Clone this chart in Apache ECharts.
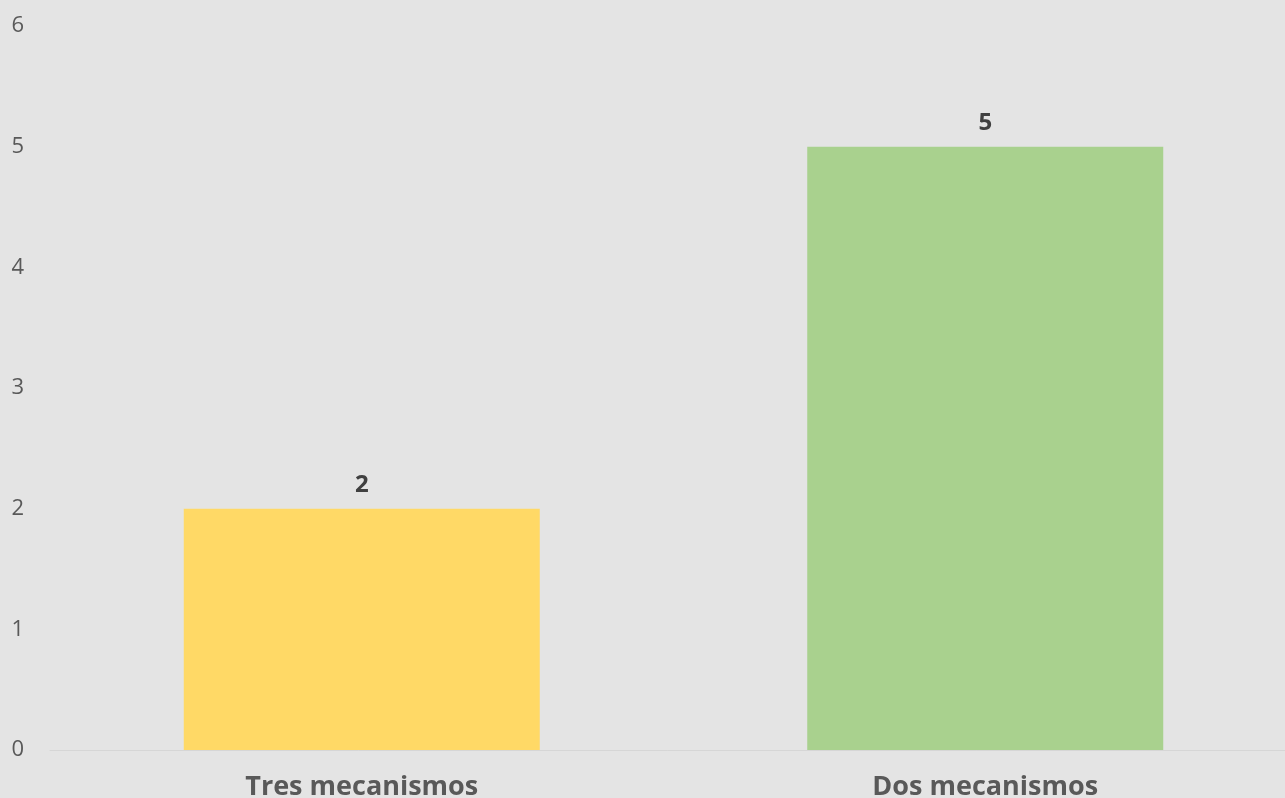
<!DOCTYPE html>
<html>
<head>
<meta charset="utf-8">
<script src="https://cdn.jsdelivr.net/npm/echarts@6/dist/echarts.min.js"></script>
<style>
  html, body { margin: 0; padding: 0; background: #E4E4E4; }
  #chart { width: 1285px; height: 798px; }
</style>
</head>
<body>
<div id="chart"></div>
<script>
const categories = ['Tres mecanismos', 'Dos mecanismos'];
const counts = [2, 5];
const barColors = ['#FFD966', '#A9D18E'];

const chart = echarts.init(document.getElementById('chart'));

const option = {
  backgroundColor: '#E4E4E4',
  animation: false,
  grid: {
    left: 50,
    right: -12,
    top: 26,
    bottom: 48,
    outerBoundsMode: 'none',
  },
  xAxis: {
    type: 'category',
    data: categories,
    axisLine: { lineStyle: { color: '#D6D6D6', width: 1 } },
    axisTick: { show: false },
    axisLabel: {
      color: '#595959',
      fontFamily: 'Open Sans',
      fontWeight: 'bold',
      fontSize: 27,
      margin: 24,
    },
  },
  yAxis: {
    type: 'value',
    min: 0,
    max: 6,
    interval: 1,
    splitLine: { show: false },
    axisLine: { show: false },
    axisTick: { show: false },
    axisLabel: {
      color: '#595959',
      fontFamily: 'Open Sans',
      fontSize: 22,
      margin: 26,
    },
  },
  series: [
    {
      type: 'bar',
      barWidth: 356,
      data: counts.map((v, i) => ({ value: v, itemStyle: { color: barColors[i] } })),
      label: {
        show: true,
        position: 'top',
        distance: 12,
        color: '#404040',
        fontFamily: 'Open Sans',
        fontWeight: 'bold',
        fontSize: 24,
      },
    },
  ],
};

chart.setOption(option);
</script>
</body>
</html>
